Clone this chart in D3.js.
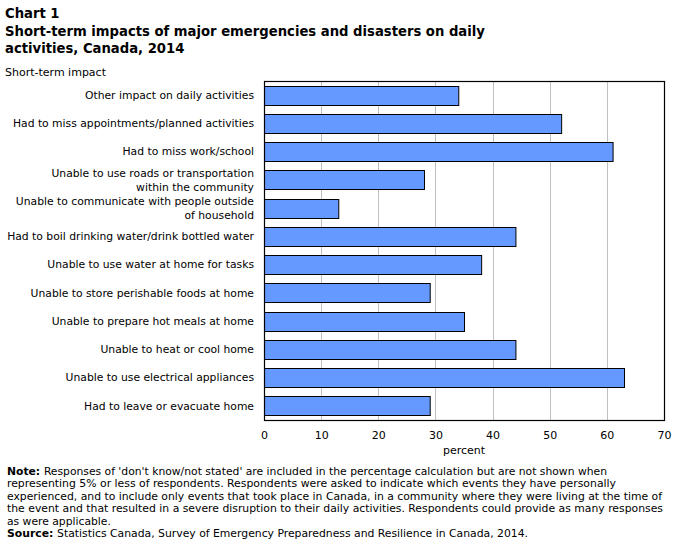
<!DOCTYPE html>
<html><head><meta charset="utf-8">
<script src="https://cdn.jsdelivr.net/npm/d3@7"></script>
<style>body{margin:0;background:#fff}svg{display:block}</style>
</head><body>
<script>
const categories = [
  ["Other impact on daily activities"],
  ["Had to miss appointments/planned activities"],
  ["Had to miss work/school"],
  ["Unable to use roads or transportation","within the community"],
  ["Unable to communicate with people outside","of household"],
  ["Had to boil drinking water/drink bottled water"],
  ["Unable to use water at home for tasks"],
  ["Unable to store perishable foods at home"],
  ["Unable to prepare hot meals at home"],
  ["Unable to heat or cool home"],
  ["Unable to use electrical appliances"],
  ["Had to leave or evacuate home"]
];
const values = [34, 52, 61, 28, 13, 44, 38, 29, 35, 44, 63, 29];
const xTicks = [0, 10, 20, 30, 40, 50, 60, 70];
const noteLines = [
  "Responses of 'don't know/not stated' are included in the percentage calculation but are not shown when",
  "representing 5% or less of respondents. Respondents were asked to indicate which events they have personally",
  "experienced, and to include only events that took place in Canada, in a community where they were living at the time of",
  "the event and that resulted in a severe disruption to their daily activities. Respondents could provide as many responses",
  "as were applicable."
];
const sourceText = "Statistics Canada, Survey of Emergency Preparedness and Resilience in Canada, 2014.";

(function(){
const W = 679, H = 548;
const svg = d3.select("body").append("svg").attr("width", W).attr("height", H);
const font = "Verdana, 'DejaVu Sans', sans-serif";
const noteFont = "Tahoma, 'DejaVu Sans Condensed', 'DejaVu Sans', sans-serif";

const pL = 264, pR = 664, pT = 81, pB = 420;
const x = d3.scaleLinear().domain([0, 70]).range([pL, pR]);
const y = d3.scaleBand().domain(d3.range(categories.length)).range([pT, pB]).paddingInner(0.33).paddingOuter(0.17);

// title
const t = svg.append("g").attr("font-family", font).attr("font-weight", "bold").attr("font-size", 13).attr("fill", "#000");
t.append("text").attr("x", 5).attr("y", 18).text("Chart 1");
const t2 = t.append("text").attr("x", 5).attr("y", 36).text("Short-term impacts of major emergencies and disasters on daily");
t.append("text").attr("x", 5).attr("y", 53).text("activities, Canada, 2014");
const tl = t2.node().getComputedTextLength();
if (tl > 0) t.attr("font-size", 13 * 480 / tl);
svg.append("text").attr("x", 5).attr("y", 76).attr("font-family", font).attr("font-size", 11).text("Short-term impact");

// grid
svg.append("g").selectAll("line").data(xTicks.slice(1, -1)).join("line")
  .attr("x1", d => Math.round(x(d)) + 0.5).attr("x2", d => Math.round(x(d)) + 0.5).attr("y1", pT).attr("y2", pB)
  .attr("stroke", "#c0c0c0").attr("stroke-width", 1);

// bars
svg.append("g").selectAll("rect").data(values).join("rect")
  .attr("x", x(0) + 0.5).attr("y", (d, i) => Math.round(y(i)) + 0.5)
  .attr("width", d => x(d) - x(0))
  .attr("height", Math.round(y.bandwidth()))
  .attr("fill", "#6699ff").attr("stroke", "#000").attr("stroke-width", 1);

// frame
svg.append("rect").attr("x", pL + 0.5).attr("y", pT + 0.5).attr("width", pR - pL).attr("height", pB - pT)
  .attr("fill", "none").attr("stroke", "#000").attr("stroke-width", 1.2);

// x axis
const xa = svg.append("g").attr("transform", `translate(0,${pB})`)
  .call(d3.axisBottom(x).tickValues(xTicks).tickSize(0).tickPadding(11));
xa.select(".domain").remove();
xa.selectAll("text").attr("font-family", font).attr("font-size", 11).attr("fill", "#000");
svg.append("text").attr("x", x(35)).attr("y", 454).attr("text-anchor", "middle")
  .attr("font-family", font).attr("font-size", 11).text("percent");

// category labels
const lab = svg.append("g").attr("font-family", font).attr("font-size", 11).attr("fill", "#000").attr("text-anchor", "end");
let refNode = null;
categories.forEach((lines, i) => {
  const cy = y(i) + y.bandwidth() / 2;
  const n = lines.length, lh = 14;
  lines.forEach((s, j) => {
    const tx = lab.append("text").attr("x", 254).attr("y", cy + (j - (n - 1) / 2) * lh).attr("dy", "0.35em").text(s);
    if (i === 5) refNode = tx.node();
  });
});
const ll = refNode.getComputedTextLength();
if (ll > 0) lab.attr("font-size", 11 * 247 / ll);

// notes
const targets = [600, 609, 655, 656, null, 521];
const fs = 10.5;
const nt = svg.append("g").attr("font-family", noteFont).attr("font-size", fs).attr("fill", "#000");
const nodes = [];
noteLines.forEach((s, j) => {
  const tx = nt.append("text").attr("x", 7).attr("y", 475 + j * 12.4);
  if (j === 0) { tx.append("tspan").attr("font-weight", "bold").text("Note: "); }
  tx.append("tspan").text(s);
  nodes.push(tx);
});
const st = nt.append("text").attr("x", 7).attr("y", 475 + 5 * 12.4);
st.append("tspan").attr("font-weight", "bold").text("Source: ");
st.append("tspan").text(sourceText);
nodes.push(st);
const l0 = nodes[0].node().getComputedTextLength();
const ratio = l0 > 0 ? 600 / l0 : 1;
nodes.forEach((n, j) => {
  const tgt = targets[j] || n.node().getComputedTextLength() * ratio;
  n.attr("textLength", tgt).attr("lengthAdjust", "spacingAndGlyphs");
});
})();
</script>
</body></html>
